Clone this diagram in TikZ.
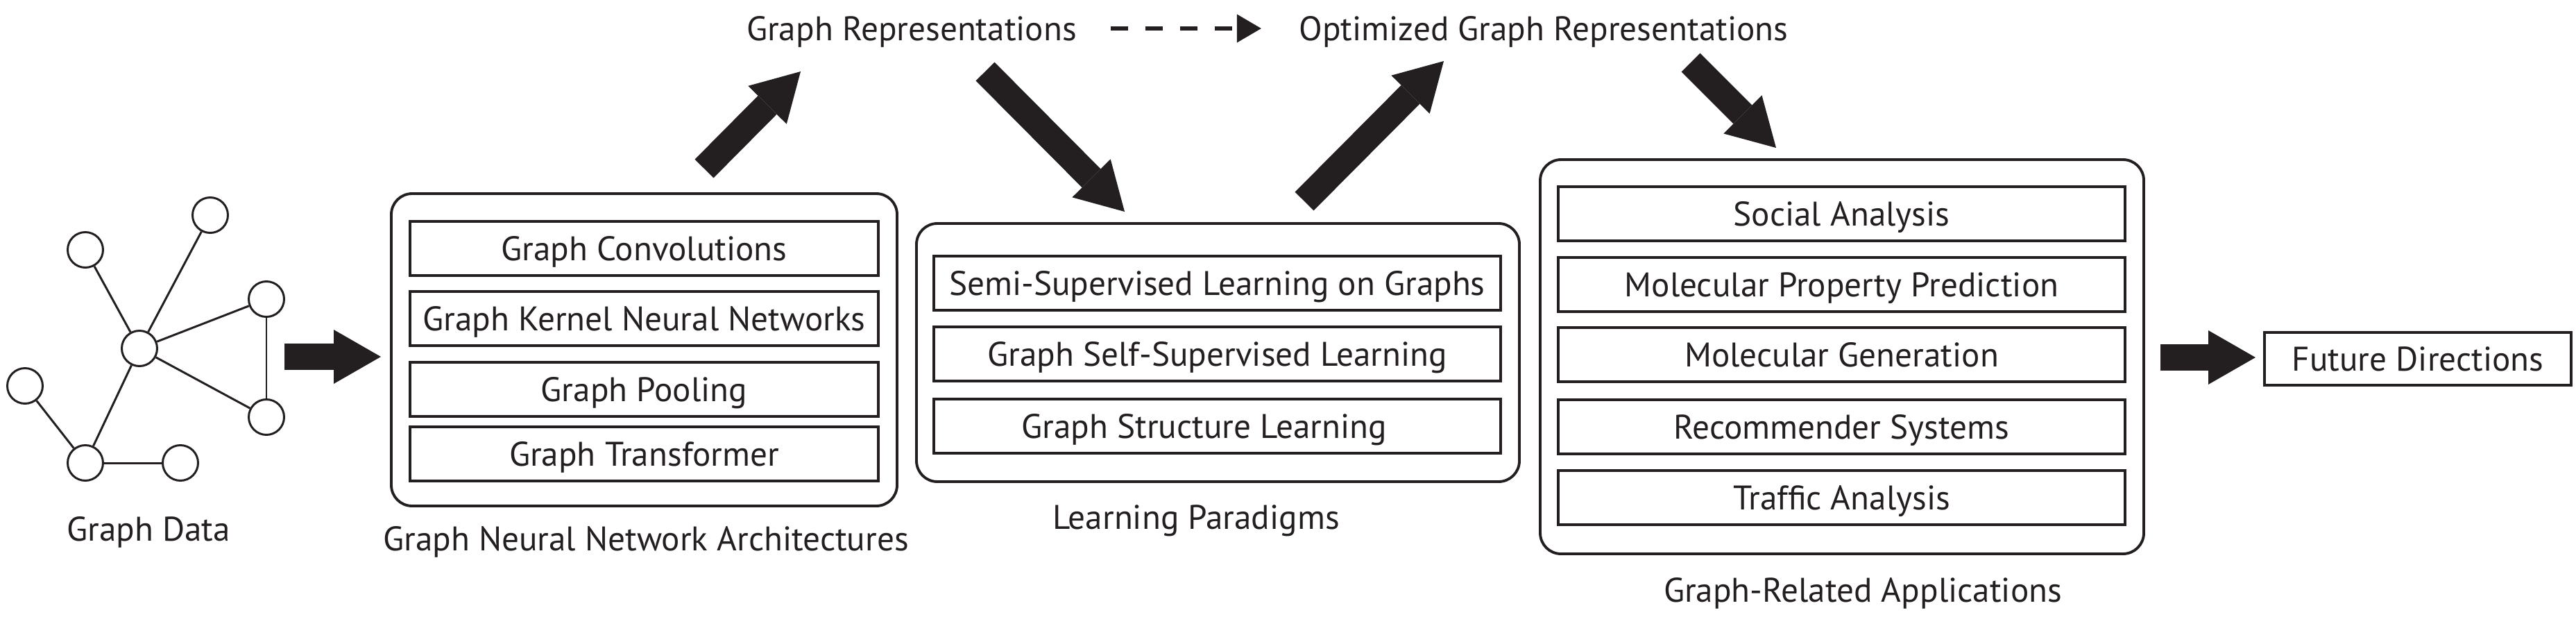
\documentclass[tikz,border=0pt]{standalone}
\usepackage{fontspec}
\setmainfont{PT Sans}
\usetikzlibrary{arrows.meta}
\definecolor{inkblack}{HTML}{231F20}

\begin{document}
\begin{tikzpicture}[
        every node/.style={text=inkblack, font=\fontsize{14}{16}\selectfont, text height=9.8pt, text depth=0pt},
        vertex/.style={circle, draw=inkblack, line width=0.85pt, minimum size=0.51cm, inner sep=0pt},
        link/.style={draw=inkblack, line width=0.85pt},
        groupbox/.style={draw=inkblack, line width=1.1pt, rounded corners=0.3cm},
        itembox/.style={draw=inkblack, line width=1.15pt, minimum height=0.78cm, inner sep=0pt},
        caption/.style={inner sep=0pt},
        bigarrow/.style={inkblack, line width=0.38cm, -{Triangle[width=0.78cm,length=0.68cm,line width=0pt]}},
        dasharrow/.style={inkblack, line width=0.055cm, dash pattern=on 0.25cm off 0.25cm, -{Triangle[width=0.41cm,length=0.35cm,line width=0pt]}}
    ]
        \useasboundingbox (0,0) rectangle (37.13,8.88);

        % graph data
        \node[vertex] (n1) at (3.03,5.78) {};
        \node[vertex] (n2) at (1.23,5.28) {};
        \node[vertex] (n3) at (3.84,4.57) {};
        \node[vertex] (n4) at (2.01,3.86) {};
        \node[vertex] (n5) at (0.36,3.32) {};
        \node[vertex] (n6) at (3.84,2.87) {};
        \node[vertex] (n7) at (1.23,2.21) {};
        \node[vertex] (n8) at (2.60,2.21) {};
        \foreach \a/\b in {n4/n1, n4/n2, n4/n3, n4/n6, n3/n6, n4/n7, n5/n7, n7/n8}
            \draw[link] (\a) -- (\b);
        \node[caption] (gdata) at (2.14,1.255) {Graph Data};

        % graph neural network architectures
        \node[groupbox, minimum width=7.29cm, minimum height=4.50cm] (gnn) at (9.285,3.84) {};
        \node[itembox, minimum width=6.75cm] (conv) at (9.285,5.30) {Graph Convolutions};
        \node[itembox, minimum width=6.75cm] (kern) at (9.285,4.29) {Graph Kernel Neural Networks};
        \node[itembox, minimum width=6.75cm] (pool) at (9.285,3.27) {Graph Pooling};
        \node[itembox, minimum width=6.75cm] (trans) at (9.285,2.34) {Graph Transformer};
        \node[caption] (gnnlab) at (9.31,1.12) {Graph Neural Network Architectures};

        % learning paradigms
        \node[groupbox, minimum width=8.69cm, minimum height=3.72cm] (lp) at (17.555,3.80) {};
        \node[itembox, minimum width=8.17cm] (semi) at (17.545,4.80) {Semi-Supervised Learning on Graphs};
        \node[itembox, minimum width=8.17cm] (self) at (17.545,3.78) {Graph Self-Supervised Learning};
        \node[itembox, minimum width=8.17cm] (struct) at (17.545,2.74) {Graph Structure Learning\hspace*{0.38cm}};
        \node[caption] (lplab) at (17.24,1.43) {Learning Paradigms};

        % graph-related applications
        \node[groupbox, minimum width=8.70cm, minimum height=5.68cm] (gra) at (26.55,3.74) {};
        \node[itembox, minimum width=8.17cm] (social) at (26.545,5.80) {Social Analysis};
        \node[itembox, minimum width=8.17cm] (molprop) at (26.545,4.78) {Molecular Property Prediction};
        \node[itembox, minimum width=8.17cm] (molgen) at (26.545,3.77) {Molecular Generation};
        \node[itembox, minimum width=8.17cm] (recsys) at (26.545,2.73) {Recommender Systems};
        \node[itembox, minimum width=8.17cm] (traffic) at (26.545,1.71) {Traffic Analysis};
        \node[caption] (gralab) at (26.85,0.38) {Graph-Related Applications};

        \node[itembox, minimum width=4.42cm, minimum height=0.76cm] (future) at (34.85,3.71) {Future Directions};

        % representations
        \node[caption] (grep) at (13.14,8.47) {Graph Representations};
        \node[caption] (ogrep) at (22.25,8.47) {Optimized Graph Representations};
        \draw[dasharrow, shorten <=0.48cm, shorten >=0.54cm] (grep) -- (ogrep);

        % block arrows
        \coordinate (a1s) at (4.10,3.74);
        \coordinate (a1e) at (5.49,3.74);
        \coordinate (a2s) at (10.15,6.45);
        \coordinate (a2e) at (11.54,7.85);
        \coordinate (a3s) at (14.20,7.85);
        \coordinate (a3e) at (16.21,5.83);
        \coordinate (a4s) at (18.80,5.98);
        \coordinate (a4e) at (20.81,8.00);
        \coordinate (a5s) at (24.37,7.98);
        \coordinate (a5e) at (25.60,6.75);
        \coordinate (a6s) at (31.14,3.73);
        \coordinate (a6e) at (32.51,3.73);
        \foreach \s/\e in {a1s/a1e, a2s/a2e, a3s/a3e, a4s/a4e, a5s/a5e, a6s/a6e}
            \draw[bigarrow] (\s) -- (\e);
    \end{tikzpicture}
\end{document}
